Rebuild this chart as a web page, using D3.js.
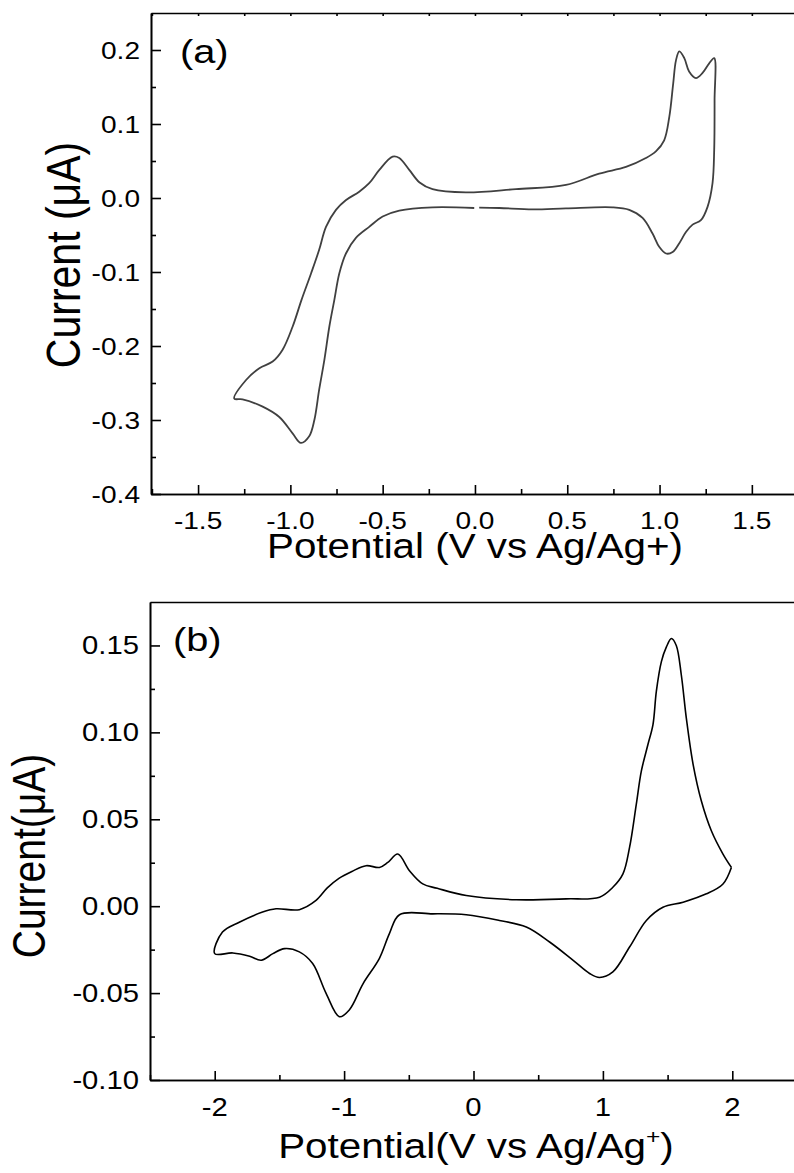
<!DOCTYPE html>
<html>
<head>
<meta charset="utf-8">
<script src="https://cdnjs.cloudflare.com/ajax/libs/d3/7.8.5/d3.min.js"></script>
<style>
body { margin: 0; background: #fff; }
text { font-family: 'Liberation Sans', Arial, sans-serif; fill: #000; }
</style>
</head>
<body>
<div id="chart"></div>
<script>
// panel (a): one closed CV loop (V, uA)
const aPotential = [-0.004, -0.23, -0.41, -0.50, -0.573, -0.645, -0.699, -0.735, -0.762, -0.789, -0.816, -0.844, -0.870, -0.898, -0.943, -0.988, -1.06, -1.15, -1.259, -1.304,
  -1.24, -1.168, -1.096, -1.042, -0.988, -0.94, -0.888, -0.844, -0.807, -0.753, -0.70, -0.627, -0.573, -0.518, -0.446, -0.41, -0.356, -0.30, -0.23, -0.049, 0.222, 0.493, 0.673, 0.818, 0.926, 0.98, 1.025, 1.053, 1.074, 1.089, 1.107, 1.134, 1.16, 1.197, 1.233, 1.269, 1.296,
  1.298, 1.296, 1.287, 1.26, 1.224, 1.179, 1.143, 1.107, 1.071, 1.035, 0.998, 0.962, 0.908, 0.836, 0.745, 0.493, 0.312, 0.132, 0.023];
const aCurrent = [-0.0135, -0.0126, -0.017, -0.025, -0.039, -0.054, -0.075, -0.102, -0.138, -0.174, -0.219, -0.259, -0.300, -0.322, -0.331, -0.318, -0.296, -0.282, -0.272, -0.271,
  -0.246, -0.230, -0.221, -0.205, -0.174, -0.138, -0.102, -0.070, -0.039, -0.016, -0.003, 0.0085, 0.020, 0.038, 0.0558, 0.054, 0.038, 0.021, 0.012, 0.0077, 0.012, 0.0176, 0.033, 0.042, 0.054, 0.063, 0.078, 0.110, 0.155, 0.186, 0.198, 0.189, 0.171, 0.162, 0.169, 0.182, 0.189,
  0.132, 0.065, 0.020, -0.012, -0.030, -0.036, -0.046, -0.061, -0.073, -0.075, -0.066, -0.048, -0.027, -0.016, -0.0126, -0.014, -0.0153, -0.0135, -0.013];
const aXTicks = [-1.5, -1.0, -0.5, 0.0, 0.5, 1.0, 1.5];
const aXLabels = ['-1.5', '-1.0', '-0.5', '0.0', '0.5', '1.0', '1.5'];
const aXMinor = [-1.75, -1.25, -0.75, -0.25, 0.25, 0.75, 1.25];
const aYTicks = [-0.4, -0.3, -0.2, -0.1, 0.0, 0.1, 0.2];
const aYLabels = ['-0.4', '-0.3', '-0.2', '-0.1', '0.0', '0.1', '0.2'];
const aYMinor = [-0.35, -0.25, -0.15, -0.05, 0.05, 0.15];

// panel (b)
const bPotential = [1.993, 1.928, 1.80, 1.62, 1.464, 1.336, 1.206, 1.077, 0.974, 0.897, 0.768, 0.588, 0.408, 0.20, -0.056, -0.315, -0.572, -0.65, -0.727, -0.853, -0.96, -1.036, -1.14, -1.243, -1.346, -1.46, -1.55, -1.64, -1.73, -1.86, -2.0,
  -1.94, -1.81, -1.63, -1.526, -1.346, -1.217, -1.13, -1.04, -0.94, -0.83, -0.727, -0.662, -0.585, -0.495, -0.392, -0.28, -0.056, 0.33, 0.717, 0.974, 1.077, 1.155, 1.206, 1.258, 1.297, 1.348, 1.387, 1.413, 1.452, 1.49, 1.529, 1.567, 1.606, 1.645, 1.697, 1.761, 1.838, 1.928, 1.993];
const bCurrent = [0.0223, 0.0128, 0.0071, 0.0023, -0.0006, -0.0082, -0.0235, -0.0378, -0.041, -0.0387, -0.031, -0.0206, -0.012, -0.0082, -0.0049, -0.0044, -0.0049, -0.0158, -0.030, -0.0445, -0.0597, -0.0636, -0.050, -0.033, -0.0263, -0.0244, -0.0273, -0.0311, -0.0288, -0.0269, -0.0273,
  -0.0149, -0.0092, -0.0034, -0.0015, -0.002, 0.0033, 0.0105, 0.0160, 0.0200, 0.0233, 0.0223, 0.0252, 0.030, 0.0204, 0.0128, 0.0103, 0.0061, 0.0037, 0.0042, 0.0052, 0.0109, 0.0186, 0.0338, 0.0586, 0.0777, 0.093, 0.1045, 0.1236, 0.1407, 0.149, 0.154, 0.150, 0.133, 0.108, 0.0816, 0.0605, 0.0434, 0.030, 0.0223];
const bXTicks = [-2, -1, 0, 1, 2];
const bXLabels = ['-2', '-1', '0', '1', '2'];
const bXMinor = [-2.5, -1.5, -0.5, 0.5, 1.5];
const bYTicks = [-0.10, -0.05, 0.00, 0.05, 0.10, 0.15];
const bYLabels = ['-0.10', '-0.05', '0.00', '0.05', '0.10', '0.15'];
const bYMinor = [-0.075, -0.025, 0.025, 0.075, 0.125];

const SX = 1.17; // the picture is stretched sideways

const svg = d3.select('#chart').append('svg').attr('width', 794).attr('height', 1173);

function panel(p) {
  const x = d3.scaleLinear().domain(p.xDomain).range([p.left, p.right]);
  const y = d3.scaleLinear().domain(p.yDomain).range([p.bottom, p.top]);
  const g = svg.append('g');

  // frame + ticks
  g.append('g').attr('transform', `translate(0,${p.bottom})`)
    .call(d3.axisBottom(x).tickValues(p.xTicks).tickSizeInner(-9).tickSizeOuter(0).tickFormat(''));
  g.append('g').attr('transform', `translate(0,${p.bottom})`)
    .call(d3.axisBottom(x).tickValues(p.xMinor).tickSizeInner(-5).tickSizeOuter(0).tickFormat(''));
  g.append('g').attr('transform', `translate(${p.left},0)`)
    .call(d3.axisLeft(y).tickValues(p.yTicks).tickSizeInner(-10).tickSizeOuter(0).tickFormat(''));
  g.append('g').attr('transform', `translate(${p.left},0)`)
    .call(d3.axisLeft(y).tickValues(p.yMinor).tickSizeInner(-5).tickSizeOuter(0).tickFormat(''));
  g.append('g').attr('transform', `translate(0,${p.top})`)
    .call(d3.axisTop(x).tickValues(p.topTicks).tickSizeInner(-3).tickSizeOuter(0).tickFormat(''));
  g.append('line').attr('x1', p.right).attr('x2', p.right).attr('y1', p.top).attr('y2', p.bottom);
  g.selectAll('.domain, .tick line, line').attr('stroke', '#000').attr('stroke-width', 1.6);

  // tick labels
  g.selectAll('.xl').data(p.xTicks).enter().append('text')
    .attr('transform', d => `translate(${x(d)},${p.bottom + p.xLabelDy}) scale(${SX},1)`)
    .attr('text-anchor', 'middle').style('font-size', p.tickFont + 'px')
    .text((d, i) => p.xLabels[i]);
  g.selectAll('.yl').data(p.yTicks).enter().append('text')
    .attr('transform', d => `translate(${p.left - 11},${y(d) + p.tickFont * 0.36}) scale(${SX},1)`)
    .attr('text-anchor', 'end').style('font-size', p.tickFont + 'px')
    .text((d, i) => p.yLabels[i]);

  // titles
  const xt = g.append('text')
    .attr('transform', `translate(${p.xTitleX},${p.xTitleY}) scale(${SX},1)`)
    .attr('text-anchor', 'middle').style('font-size', p.xTitleFont + 'px');
  p.xTitle(xt);
  g.append('text')
    .attr('transform', `translate(${p.yTitleX},${p.yTitleY}) scale(${SX},1) rotate(-90)`)
    .attr('text-anchor', 'middle').style('font-size', p.yTitleFont + 'px')
    .text(p.yTitle);
  g.append('text')
    .attr('transform', `translate(${p.tagX},${p.tagY}) scale(${SX},1)`)
    .style('font-size', '34px').text(p.tag);

  // curve
  const pts = p.xs.map((v, i) => [v, p.ys[i]]);
  g.append('path').datum(pts)
    .attr('fill', 'none').attr('stroke', p.color).attr('stroke-width', p.width)
    .attr('stroke-linejoin', 'round')
    .attr('d', d3.line().x(d => x(d[0])).y(d => y(d[1])).curve(d3.curveCatmullRom.alpha(0.5)));
}

panel({
  xDomain: [-1.755, 1.75], yDomain: [-0.4, 0.25],
  left: 151, right: 798, top: 13, bottom: 494,
  xTicks: aXTicks, xLabels: aXLabels, xMinor: aXMinor,
  yTicks: aYTicks, yLabels: aYLabels, yMinor: aYMinor,
  topTicks: aXTicks.concat(aXMinor),
  tickFont: 24, xLabelDy: 35,
  xTitleFont: 34.5, xTitleX: 475, xTitleY: 558,
  xTitle: t => t.text('Potential (V vs Ag/Ag+)'),
  yTitle: 'Current (\u03bcA)', yTitleFont: 41, yTitleX: 80, yTitleY: 255,
  tag: '(a)', tagX: 180, tagY: 63,
  xs: aPotential, ys: aCurrent, color: '#404040', width: 1.8
});

panel({
  xDomain: [-2.5, 2.5], yDomain: [-0.10, 0.175],
  left: 150, right: 797, top: 602, bottom: 1080,
  xTicks: bXTicks, xLabels: bXLabels, xMinor: bXMinor,
  yTicks: bYTicks, yLabels: bYLabels, yMinor: bYMinor,
  topTicks: [],
  tickFont: 25, xLabelDy: 36,
  xTitleFont: 34.5, xTitleX: 476, xTitleY: 1158,
  xTitle: t => {
    t.append('tspan').text('Potential(V vs Ag/Ag');
    t.append('tspan').attr('dy', -14).style('font-size', '21px').text('+');
    t.append('tspan').attr('dy', 14).text(')');
  },
  yTitle: 'Current(\u03bcA)', yTitleFont: 39, yTitleX: 45, yTitleY: 856,
  tag: '(b)', tagX: 173, tagY: 651,
  xs: bPotential, ys: bCurrent, color: '#000', width: 1.6
});
</script>
</body>
</html>
